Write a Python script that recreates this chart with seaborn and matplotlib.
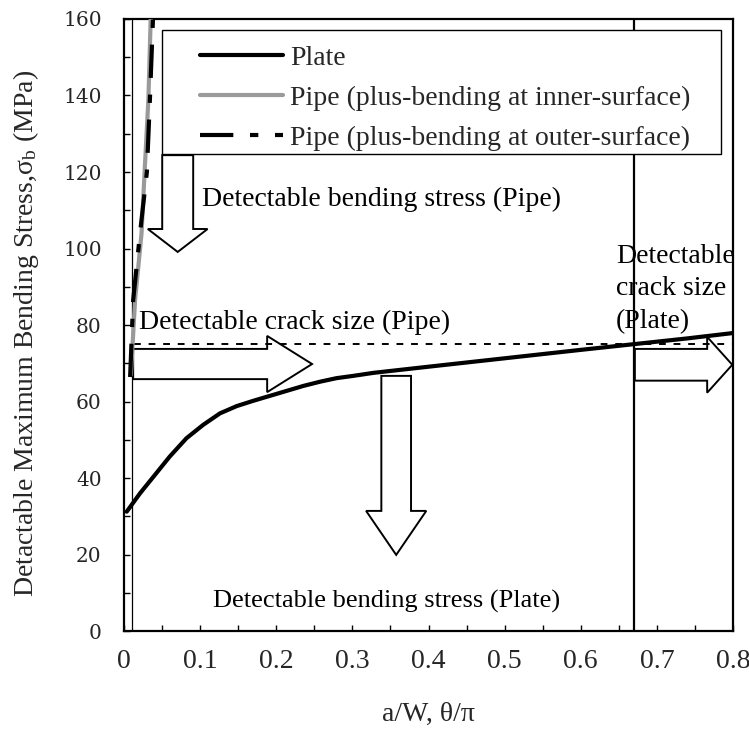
import matplotlib
matplotlib.use("Agg")
import matplotlib.pyplot as plt
import pandas as pd
import seaborn as sns
from matplotlib.lines import Line2D
from matplotlib.patches import Rectangle
from matplotlib.ticker import MultipleLocator

sns.set_theme(style="white")
plt.rcParams["font.family"] = ["Liberation Serif", "DejaVu Serif"]
plt.rcParams["mathtext.fontset"] = "stix"

# Plate: detectable bending stress vs. a/W
plate_x = [0.0035, 0.021, 0.0385, 0.060, 0.082, 0.104, 0.126, 0.148, 0.170,
           0.192, 0.214, 0.236, 0.258, 0.279, 0.301, 0.328, 0.40, 0.50,
           0.60, 0.67, 0.74, 0.80]
plate_y = [31.2, 36.0, 40.3, 45.6, 50.4, 53.9, 56.9, 58.8, 60.2,
           61.5, 62.8, 64.1, 65.2, 66.1, 66.7, 67.5, 69.1, 71.3,
           73.5, 75.0, 76.5, 77.9]

# Pipe: plus-bending at inner / outer surface vs. theta/pi
pipe_in_x = [0.009, 0.0145, 0.023, 0.027, 0.032, 0.035]
pipe_in_y = [67.0, 86.5, 104.0, 120.0, 139.0, 160.0]
pipe_out_x = [0.008, 0.012, 0.021, 0.030, 0.034, 0.038]
pipe_out_y = [66.4, 86.5, 104.0, 120.0, 139.0, 160.0]

# Detection thresholds
stress_limit = 75.0
pipe_min_size = 0.0105
plate_min_size = 0.67

legend_labels = ["Plate",
                 "Pipe (plus-bending at inner-surface)",
                 "Pipe (plus-bending at outer-surface)"]

# Block arrows: (x, y, dx, dy, shaft width, head width, head length)
arrows = [
    (0.0705, 124.4, 0.0, -25.3, 0.0407, 0.0785, 6.0),
    (0.012, 69.8, 0.235, 0.0, 7.9, 14.7, 0.059),
    (0.3575, 66.7, 0.0, -46.8, 0.039, 0.079, 11.5),
    (0.671, 69.6, 0.128, 0.0, 8.3, 14.6, 0.033),
]

fig = plt.figure(figsize=(7.49, 7.45), dpi=100)
ax = fig.add_axes([0.1656, 0.1530, 0.8131, 0.8215])

plate = pd.DataFrame({"x": plate_x, "y": plate_y})
pipe_in = pd.DataFrame({"x": pipe_in_x, "y": pipe_in_y})
pipe_out = pd.DataFrame({"x": pipe_out_x, "y": pipe_out_y})

for (x, y, dx, dy, w, hw, hl) in arrows:
    ax.arrow(x, y, dx, dy, width=w, head_width=hw, head_length=hl,
             length_includes_head=True, fc="white", ec="black", lw=1.4,
             zorder=2)

ax.axhline(stress_limit, xmin=0.017, xmax=1, color="black", lw=1.4,
           ls=(0, (3.5, 4)), zorder=3)
ax.axvline(pipe_min_size, color="black", lw=0.9, zorder=3)
ax.axvline(plate_min_size, color="black", lw=1.6, zorder=3)

sns.lineplot(data=plate, x="x", y="y", ax=ax, color="black", lw=3.0,
             sort=False, estimator=None, zorder=4)
sns.lineplot(data=pipe_in, x="x", y="y", ax=ax, color="#9a9a9a", lw=3.0,
             sort=False, estimator=None, zorder=4)
sns.lineplot(data=pipe_out, x="x", y="y", ax=ax, color="black", lw=3.0,
             sort=False, estimator=None, zorder=5)
ax.lines[-1].set_dashes((8, 4, 2, 4))

# Legend frame drawn as its own box; entries placed inside it
ax.add_patch(Rectangle((0.062, 0.779), 0.918, 0.203, transform=ax.transAxes,
                       fc="white", ec="black", lw=1.0, zorder=9))
handles = [
    Line2D([], [], color="black", lw=3.0),
    Line2D([], [], color="#9a9a9a", lw=3.0),
    Line2D([], [], color="black", lw=3.0, dashes=(8, 4, 2, 4)),
]
leg = ax.legend(handles, legend_labels, loc="upper left",
                bbox_to_anchor=(0.125, 0.957), borderaxespad=0,
                fontsize=20, handlelength=3.0, handletextpad=0.25,
                labelspacing=0.52, borderpad=0, frameon=False)
leg.set_zorder(10)

tfont = dict(color="black")
ax.text(0.102, 112.8, "Detectable bending stress (Pipe)", va="center",
        ha="left", fontsize=20, **tfont)
ax.text(0.0197, 80.8, "Detectable crack size (Pipe)", va="center",
        ha="left", fontsize=20, **tfont)
ax.text(0.345, 7.8, "Detectable bending stress (Plate)", va="center",
        ha="center", fontsize=19, **tfont)
ax.text(0.646, 89.5, "Detectable\ncrack size\n(Plate)", va="center",
        ha="left", linespacing=1.4, fontsize=20, **tfont)

ax.set_xlim(0, 0.8)
ax.set_ylim(0, 160)
ax.xaxis.set_major_locator(MultipleLocator(0.1))
ax.xaxis.set_minor_locator(MultipleLocator(0.05))
ax.yaxis.set_major_locator(MultipleLocator(20))
ax.yaxis.set_minor_locator(MultipleLocator(10))
ax.set_xticks([0, 0.1, 0.2, 0.3, 0.4, 0.5, 0.6, 0.7, 0.8])
ax.set_xticklabels(["0", "0.1", "0.2", "0.3", "0.4", "0.5", "0.6", "0.7", "0.8"])
ax.tick_params(axis="both", which="both", direction="in", length=4,
               width=1.0, color="black", bottom=True, left=True,
               top=False, right=False)
ax.tick_params(axis="x", which="major", pad=13, labelsize=20)
ax.tick_params(axis="y", which="major", pad=16, labelsize=14.5)
for lab in ax.get_yticklabels():
    lab.set_fontfamily("DejaVu Serif")

for sp in ax.spines.values():
    sp.set_visible(True)
    sp.set_color("black")
    sp.set_linewidth(1.6)

ax.set_xlabel(r"a/W, θ/π", fontsize=20, labelpad=20)
ax.set_ylabel(r"Detactable Maximum Bending Stress,σ$_\mathregular{b}$ (MPa)",
              fontsize=20)
ax.yaxis.set_label_coords(-0.137, 0.487)

fig.savefig("out.png", dpi=100, facecolor="white")
